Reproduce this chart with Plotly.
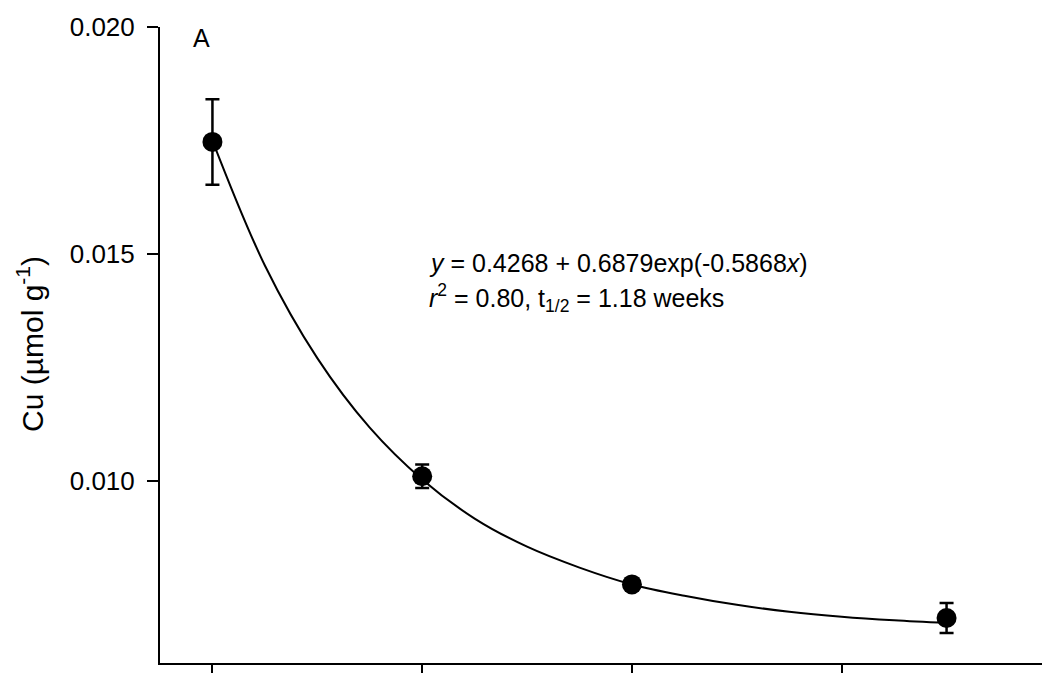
import plotly.graph_objects as go

# Measured data
weeks = [0, 2, 4, 7]
cu = [0.01747, 0.01011, 0.00773, 0.00699]
cu_err = [0.00094, 0.00026, 0.00008, 0.00033]

# Fitted curve
fit_x = [0, 0.5, 1, 1.5, 2, 2.5, 3, 3.5, 4, 4.5, 5, 5.5, 6, 6.5, 7]
fit_y = [0.01750, 0.01475, 0.01271, 0.01118, 0.01004, 0.00918, 0.00856,
         0.00810, 0.00773, 0.00748, 0.00728, 0.00713, 0.00702, 0.00694, 0.00688]

y_ticks = [0.010, 0.015, 0.020]
y_ticktext = ["0.010", "0.015", "0.020"]
x_ticks = [0, 2, 4, 6]

FONT = "Arial, Liberation Sans, sans-serif"

W, H = 1042, 673
ML, MR, MT, MB = 160, 0, 27, 4
plot_w = W - ML - MR
plot_h = H - MT - MB

fig = go.Figure()
fig.add_trace(go.Scatter(
    x=fit_x, y=fit_y, mode="lines", line=dict(color="black", width=2, shape="spline"),
    hoverinfo="skip", showlegend=False))
fig.add_trace(go.Scatter(
    x=weeks, y=cu, mode="markers",
    marker=dict(color="black", size=20),
    error_y=dict(type="data", array=cu_err, visible=True, color="black", thickness=2.5, width=7),
    showlegend=False))

fig.update_layout(
    width=W, height=H,
    margin=dict(l=ML, r=MR, t=MT, b=MB),
    paper_bgcolor="white", plot_bgcolor="white",
    font=dict(family=FONT, size=25, color="black"),
    xaxis=dict(range=[-0.5, 7.91], tickvals=x_ticks, showticklabels=False,
               ticks="outside", ticklen=10, tickwidth=2, tickcolor="black",
               showline=True, linecolor="black", linewidth=2,
               showgrid=False, zeroline=False),
    yaxis=dict(range=[0.006, 0.020], tickvals=y_ticks, ticktext=y_ticktext,
               ticks="outside", ticklen=11, tickwidth=2, tickcolor="black",
               showline=True, linecolor="black", linewidth=2,
               showgrid=False, zeroline=False, ticklabelstandoff=7,
               tickfont=dict(size=26)),
    annotations=[
        dict(text="A", x=-0.105, y=0.01976, xref="x", yref="y", showarrow=False,
             xanchor="center", yanchor="middle", font=dict(size=25)),
        dict(text="<i>y</i> = 0.4268 + 0.6879exp(-0.5868<i>x</i>)", x=2.043, y=0.0148,
             xref="x", yref="y", showarrow=False, xanchor="left", yanchor="middle",
             font=dict(size=25)),
        dict(text="<i>r</i><sup>2</sup> = 0.80, t<sub>1/2</sub> = 1.18 weeks", x=2.043, y=0.01404,
             xref="x", yref="y", showarrow=False, xanchor="left", yanchor="middle",
             font=dict(size=25)),
        dict(text="Cu (µmol g<sup>-1</sup>)",
             x=(30 - ML) / plot_w, y=(H - MB - 347) / plot_h,
             xref="paper", yref="paper",
             showarrow=False, textangle=-90, xanchor="center", yanchor="middle",
             font=dict(size=30)),
    ],
)

fig.write_html("out.html")
